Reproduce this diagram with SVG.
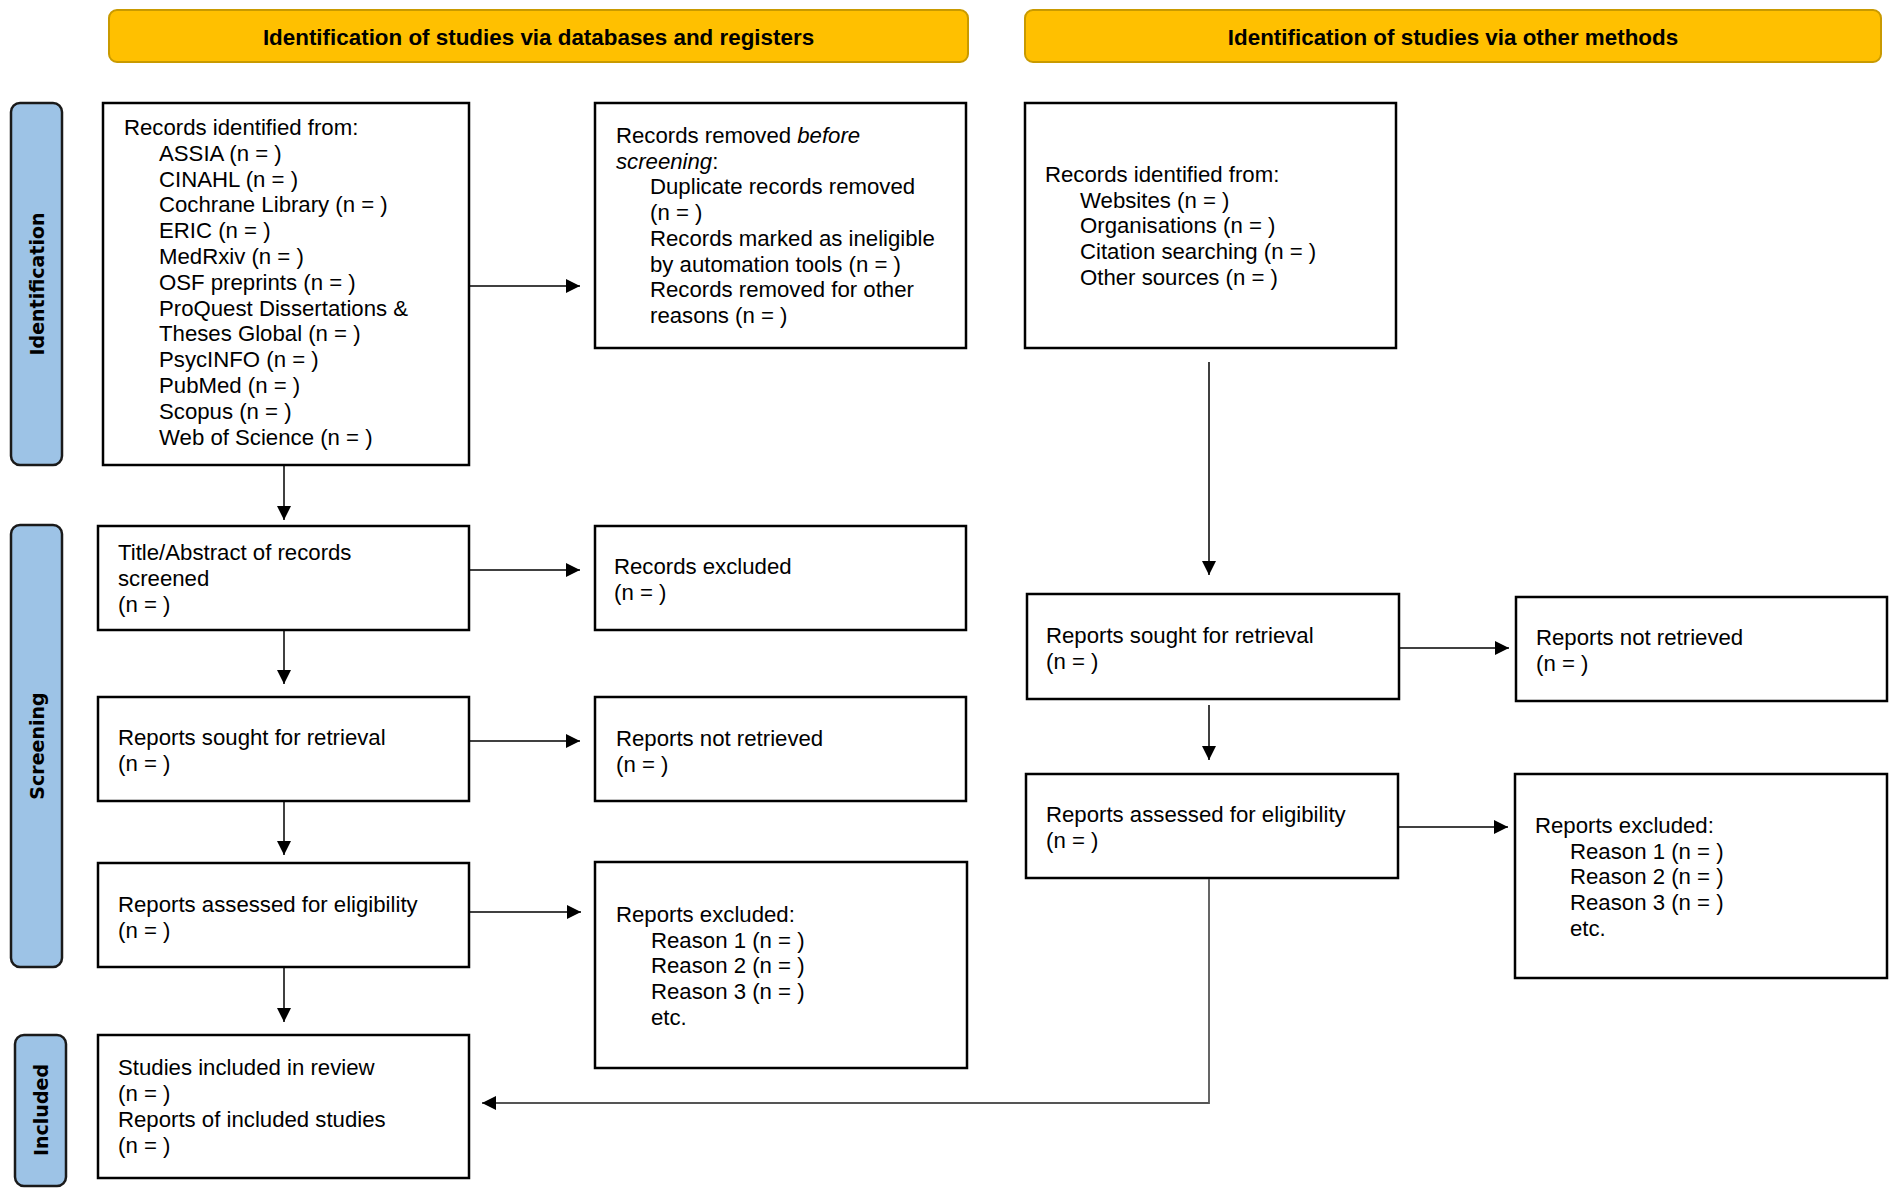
<svg xmlns="http://www.w3.org/2000/svg" width="1902" height="1197" viewBox="0 0 1902 1197">
<style>
.hdr{fill:#FFC000;stroke:#C99A00;stroke-width:2}
.hdrt{font-family:"Liberation Sans",Arial,sans-serif;font-weight:bold;font-size:22.4px;fill:#000;text-anchor:middle}
.side{fill:#9DC3E6;stroke:#1a1a1a;stroke-width:2.5}
.sidet{font-family:"DejaVu Sans",Verdana,sans-serif;font-weight:bold;font-size:19px;fill:#000;text-anchor:middle;dominant-baseline:central}
.box{fill:#fff;stroke:#000;stroke-width:2.5}
.t{font-family:"Liberation Sans",Arial,sans-serif;font-size:22.2px;fill:#000}
.c{fill:none;stroke:#000;stroke-width:1.5}
.cg{fill:none;stroke:#555;stroke-width:1.8}
</style>
<defs>
<marker id="ah" markerUnits="userSpaceOnUse" markerWidth="14" markerHeight="14" viewBox="0 0 14 14" refX="14" refY="7" orient="auto">
<path d="M0,0 L14,7 L0,14 z" fill="#000"/>
</marker>
</defs>
<rect width="1902" height="1197" fill="#fff"/>

<g id="header-databases">
<rect class="hdr" x="109" y="10" width="859" height="52" rx="8"/>
<text class="hdrt" x="538.5" y="45">Identification of studies via databases and registers</text>
</g>
<g id="header-other">
<rect class="hdr" x="1025" y="10" width="856" height="52" rx="8"/>
<text class="hdrt" x="1453" y="45">Identification of studies via other methods</text>
</g>

<g id="label-identification">
<rect class="side" x="11" y="103" width="51" height="362" rx="9"/>
<text class="sidet" transform="translate(36.5,284) rotate(-90)">Identification</text>
</g>
<g id="label-screening">
<rect class="side" x="11" y="525" width="51" height="442" rx="9"/>
<text class="sidet" transform="translate(36.5,746) rotate(-90)">Screening</text>
</g>
<g id="label-included">
<rect class="side" x="15" y="1035" width="51" height="151" rx="9"/>
<text class="sidet" transform="translate(40.5,1110) rotate(-90)">Included</text>
</g>

<g id="records-identified-db">
<rect class="box" x="103" y="103" width="366" height="362"/>
<text class="t" x="124" y="135">Records identified from:</text>
<text class="t" x="159" y="160.8">ASSIA (n = )</text>
<text class="t" x="159" y="186.6">CINAHL (n = )</text>
<text class="t" x="159" y="212.4">Cochrane Library (n = )</text>
<text class="t" x="159" y="238.2">ERIC (n = )</text>
<text class="t" x="159" y="264">MedRxiv (n = )</text>
<text class="t" x="159" y="289.8">OSF preprints (n = )</text>
<text class="t" x="159" y="315.6">ProQuest Dissertations &amp;</text>
<text class="t" x="159" y="341.4">Theses Global (n = )</text>
<text class="t" x="159" y="367.2">PsycINFO (n = )</text>
<text class="t" x="159" y="393">PubMed (n = )</text>
<text class="t" x="159" y="418.8">Scopus (n = )</text>
<text class="t" x="159" y="444.6">Web of Science (n = )</text>
</g>

<g id="records-removed">
<rect class="box" x="595" y="103" width="371" height="245"/>
<text class="t" x="616" y="143">Records removed <tspan font-style="italic">before</tspan></text>
<text class="t" x="616" y="168.7"><tspan font-style="italic">screening</tspan>:</text>
<text class="t" x="650" y="194.4">Duplicate records removed</text>
<text class="t" x="650" y="220.1">(n = )</text>
<text class="t" x="650" y="245.8">Records marked as ineligible</text>
<text class="t" x="650" y="271.5">by automation tools (n = )</text>
<text class="t" x="650" y="297.2">Records removed for other</text>
<text class="t" x="650" y="322.9">reasons (n = )</text>
</g>

<g id="records-identified-other">
<rect class="box" x="1025" y="103" width="371" height="245"/>
<text class="t" x="1045" y="182">Records identified from:</text>
<text class="t" x="1080" y="207.7">Websites (n = )</text>
<text class="t" x="1080" y="233.4">Organisations (n = )</text>
<text class="t" x="1080" y="259.1">Citation searching (n = )</text>
<text class="t" x="1080" y="284.8">Other sources (n = )</text>
</g>

<g id="title-abstract-screened">
<rect class="box" x="98" y="526" width="371" height="104"/>
<text class="t" x="118" y="560">Title/Abstract of records</text>
<text class="t" x="118" y="586">screened</text>
<text class="t" x="118" y="612">(n = )</text>
</g>

<g id="records-excluded">
<rect class="box" x="595" y="526" width="371" height="104"/>
<text class="t" x="614" y="574">Records excluded</text>
<text class="t" x="614" y="600">(n = )</text>
</g>

<g id="reports-sought-db">
<rect class="box" x="98" y="697" width="371" height="104"/>
<text class="t" x="118" y="745">Reports sought for retrieval</text>
<text class="t" x="118" y="771">(n = )</text>
</g>

<g id="reports-not-retrieved-db">
<rect class="box" x="595" y="697" width="371" height="104"/>
<text class="t" x="616" y="746">Reports not retrieved</text>
<text class="t" x="616" y="772">(n = )</text>
</g>

<g id="reports-assessed-db">
<rect class="box" x="98" y="863" width="371" height="104"/>
<text class="t" x="118" y="912">Reports assessed for eligibility</text>
<text class="t" x="118" y="938">(n = )</text>
</g>

<g id="reports-excluded-db">
<rect class="box" x="595" y="862" width="372" height="206"/>
<text class="t" x="616" y="922">Reports excluded:</text>
<text class="t" x="651" y="947.7">Reason 1 (n = )</text>
<text class="t" x="651" y="973.4">Reason 2 (n = )</text>
<text class="t" x="651" y="999.1">Reason 3 (n = )</text>
<text class="t" x="651" y="1024.8">etc.</text>
</g>

<g id="studies-included">
<rect class="box" x="98" y="1035" width="371" height="143"/>
<text class="t" x="118" y="1075">Studies included in review</text>
<text class="t" x="118" y="1101">(n = )</text>
<text class="t" x="118" y="1127">Reports of included studies</text>
<text class="t" x="118" y="1153">(n = )</text>
</g>

<g id="reports-sought-other">
<rect class="box" x="1027" y="594" width="372" height="105"/>
<text class="t" x="1046" y="643">Reports sought for retrieval</text>
<text class="t" x="1046" y="669">(n = )</text>
</g>

<g id="reports-not-retrieved-other">
<rect class="box" x="1516" y="597" width="371" height="104"/>
<text class="t" x="1536" y="645">Reports not retrieved</text>
<text class="t" x="1536" y="671">(n = )</text>
</g>

<g id="reports-assessed-other">
<rect class="box" x="1026" y="774" width="372" height="104"/>
<text class="t" x="1046" y="822">Reports assessed for eligibility</text>
<text class="t" x="1046" y="848">(n = )</text>
</g>

<g id="reports-excluded-other">
<rect class="box" x="1515" y="774" width="372" height="204"/>
<text class="t" x="1535" y="833">Reports excluded:</text>
<text class="t" x="1570" y="858.7">Reason 1 (n = )</text>
<text class="t" x="1570" y="884.4">Reason 2 (n = )</text>
<text class="t" x="1570" y="910.1">Reason 3 (n = )</text>
<text class="t" x="1570" y="935.8">etc.</text>
</g>

<g id="connectors">
<line class="c" x1="284" y1="466" x2="284" y2="520" marker-end="url(#ah)"/>
<line class="c" x1="284" y1="631" x2="284" y2="684" marker-end="url(#ah)"/>
<line class="c" x1="284" y1="802" x2="284" y2="855" marker-end="url(#ah)"/>
<line class="c" x1="284" y1="968" x2="284" y2="1022" marker-end="url(#ah)"/>
<line class="c" x1="470" y1="286" x2="580" y2="286" marker-end="url(#ah)"/>
<line class="c" x1="470" y1="570" x2="580" y2="570" marker-end="url(#ah)"/>
<line class="c" x1="470" y1="741" x2="580" y2="741" marker-end="url(#ah)"/>
<line class="c" x1="470" y1="912" x2="581" y2="912" marker-end="url(#ah)"/>
<line class="c" x1="1209" y1="362" x2="1209" y2="575" marker-end="url(#ah)"/>
<line class="c" x1="1209" y1="705" x2="1209" y2="760" marker-end="url(#ah)"/>
<line class="c" x1="1400" y1="648" x2="1509" y2="648" marker-end="url(#ah)"/>
<line class="c" x1="1399" y1="827" x2="1508" y2="827" marker-end="url(#ah)"/>
<polyline class="cg" points="1209,879 1209,1103 482,1103" marker-end="url(#ah)"/>
</g>
</svg>
